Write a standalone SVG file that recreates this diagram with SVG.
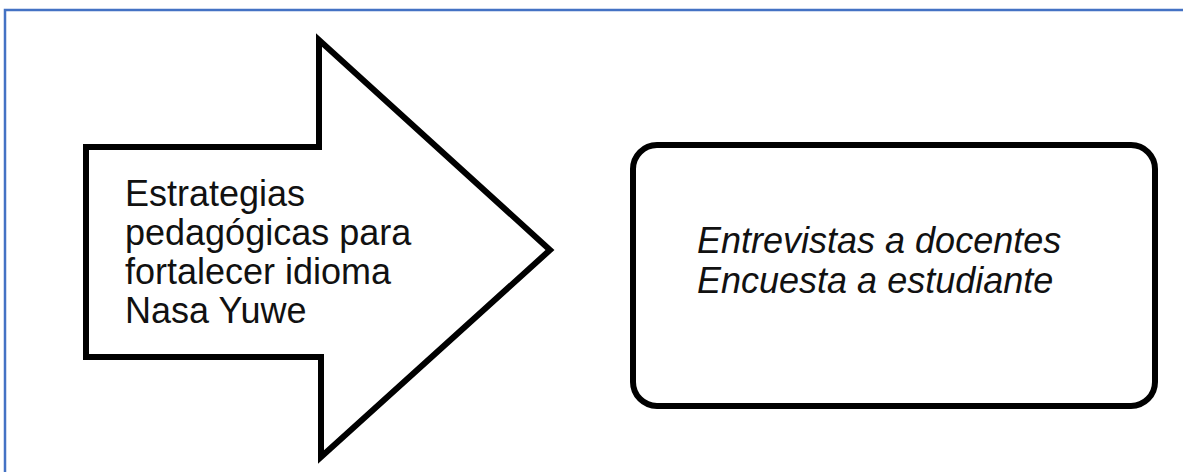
<svg xmlns="http://www.w3.org/2000/svg" width="1183" height="472" viewBox="0 0 1183 472">
<style>
.shape{fill:#fff;stroke:#000;stroke-width:6;stroke-linejoin:miter}
.t{font-family:"Liberation Sans",Arial,sans-serif;font-size:36px;fill:#111}
.it{font-style:italic}
</style>
<rect width="1183" height="472" fill="#fff"/>
<path d="M5 472 V10 H1183" fill="none" stroke="#4472c4" stroke-width="2.5"/>
<g id="arrow">
<path class="shape" d="M86 147 H319 V40 L550 250 L321 457 V357 H86 Z"/>
<text class="t"><tspan x="125" y="206">Estrategias</tspan><tspan x="125" y="245">pedagógicas para</tspan><tspan x="125" y="284">fortalecer idioma</tspan><tspan x="125" y="323">Nasa Yuwe</tspan></text>
</g>
<g id="box">
<rect class="shape" x="633" y="145" width="522" height="261" rx="24" ry="24"/>
<text class="t it"><tspan x="697" y="253">Entrevistas a docentes</tspan><tspan x="697" y="293">Encuesta a estudiante</tspan></text>
</g>
<g id="connectors"/>
</svg>
